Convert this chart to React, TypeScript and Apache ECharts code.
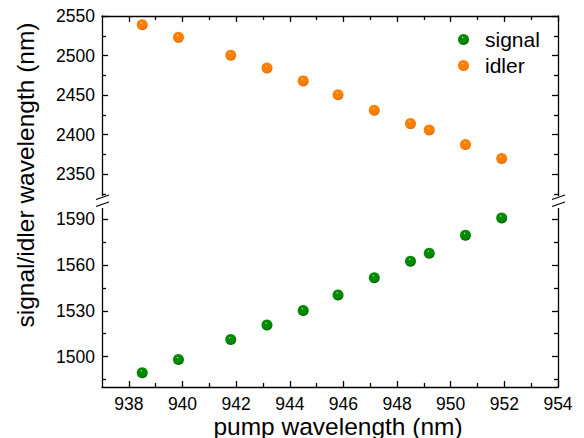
import React, { useEffect, useRef } from "react";
import * as echarts from "echarts";

const pumpWavelength = [938.5, 939.85, 941.8, 943.15, 944.5, 945.8, 947.15, 948.5, 949.2, 950.55, 951.9];
const signalWavelength = [1489.3, 1498.0, 1511.1, 1520.6, 1530.1, 1540.4, 1551.7, 1562.5, 1567.7, 1579.5, 1590.8];
const idlerWavelength = [2539, 2523, 2500.4, 2484.3, 2468, 2450.6, 2431, 2414, 2406, 2387.5, 2370];

const xMajorTicks = [938, 940, 942, 944, 946, 948, 950, 952, 954];
const xMinorTicks = [939, 941, 943, 945, 947, 949, 951, 953];
const idlerMajorTicks = [2350, 2400, 2450, 2500, 2550];
const idlerMinorTicks = [2325, 2375, 2425, 2475, 2525];
const signalMajorTicks = [1500, 1530, 1560, 1590];
const signalMinorTicks = [1485, 1515, 1545, 1575];

const FONT = "'Liberation Sans', Arial, Helvetica, sans-serif";
const AX = { color: "#000", width: 1.3 };
const plain = (v: number) => String(v);

function xAxisDef(gridIndex: number, position: string, ticks: number[], len: number, labels: boolean, line: boolean) {
  return {
    type: "value",
    gridIndex,
    position,
    min: 937,
    max: 954,
    axisLine: { show: line, lineStyle: AX },
    axisTick: { show: true, inside: true, length: len, customValues: ticks, lineStyle: AX },
    axisLabel: labels
      ? { show: true, customValues: xMajorTicks, formatter: plain, color: "#000", fontSize: 17.5, fontFamily: FONT, margin: 8 }
      : { show: false },
    splitLine: { show: false },
  };
}

function yAxisDef(gridIndex: number, position: string, min: number, max: number, ticks: number[], len: number, labels: number[] | null, line: boolean) {
  return {
    type: "value",
    gridIndex,
    position,
    min,
    max,
    axisLine: { show: line, lineStyle: AX },
    axisTick: { show: true, inside: true, length: len, customValues: ticks, lineStyle: AX },
    axisLabel: labels
      ? { show: true, customValues: labels, formatter: plain, color: "#000", fontSize: 17.5, fontFamily: FONT, margin: 7 }
      : { show: false },
    splitLine: { show: false },
  };
}

function ball(light: string, mid: string, dark: string) {
  return {
    type: "radial",
    x: 0.42,
    y: 0.32,
    r: 0.72,
    colorStops: [
      { offset: 0, color: light },
      { offset: 0.14, color: mid },
      { offset: 0.7, color: mid },
      { offset: 1, color: dark },
    ],
  };
}

export default function App() {
  const ref = useRef<HTMLDivElement>(null);
  useEffect(() => {
    if (!ref.current) return;
    const chart = echarts.init(ref.current, null, { renderer: "svg" });
    const breakLines = (x: number) => [
      { type: "rect", z: 100, shape: { x: x - 3, y: 196, width: 6, height: 12 }, style: { fill: "#fff" } },
      { type: "line", z: 101, shape: { x1: x - 6, y1: 199.5, x2: x + 7, y2: 195 }, style: { stroke: "#000", lineWidth: 1.2 } },
      { type: "line", z: 101, shape: { x1: x - 6, y1: 206.5, x2: x + 7, y2: 202 }, style: { stroke: "#000", lineWidth: 1.2 } },
    ];
    chart.setOption({
      animation: false,
      backgroundColor: "#fff",
      grid: [
        { left: 102, right: 26, top: 16, height: 182 },
        { left: 102, right: 26, top: 204, height: 183 },
      ],
      xAxis: [
        xAxisDef(0, "top", xMajorTicks, 6, false, true),
        xAxisDef(0, "top", xMinorTicks, 4, false, false),
        xAxisDef(1, "bottom", xMajorTicks, 6, true, true),
        xAxisDef(1, "bottom", xMinorTicks, 4, false, false),
      ],
      yAxis: [
        yAxisDef(0, "left", 2320, 2550, idlerMajorTicks, 6, idlerMajorTicks, true),
        yAxisDef(0, "left", 2320, 2550, idlerMinorTicks, 4, null, false),
        yAxisDef(0, "right", 2320, 2550, idlerMajorTicks, 6, null, true),
        yAxisDef(0, "right", 2320, 2550, idlerMinorTicks, 4, null, false),
        yAxisDef(1, "left", 1480, 1600, signalMajorTicks, 6, signalMajorTicks, true),
        yAxisDef(1, "left", 1480, 1600, signalMinorTicks, 4, null, false),
        yAxisDef(1, "right", 1480, 1600, signalMajorTicks, 6, null, true),
        yAxisDef(1, "right", 1480, 1600, signalMinorTicks, 4, null, false),
      ],
      legend: {
        orient: "vertical",
        left: 458,
        top: 29,
        padding: 0,
        itemWidth: 11,
        itemHeight: 11,
        itemGap: 5,
        icon: "circle",
        textStyle: { fontSize: 21, fontFamily: FONT, color: "#000", padding: [0, 0, 0, 11] },
        data: ["signal", "idler"],
      },
      series: [
        {
          name: "signal",
          type: "scatter",
          xAxisIndex: 2,
          yAxisIndex: 4,
          symbol: "circle",
          symbolSize: 11,
          itemStyle: { opacity: 1, color: ball("#d8f5d8", "#008a00", "#005000") },
          data: pumpWavelength.map((x, i) => [x, signalWavelength[i]]),
        },
        {
          name: "idler",
          type: "scatter",
          xAxisIndex: 0,
          yAxisIndex: 0,
          symbol: "circle",
          symbolSize: 11,
          itemStyle: { opacity: 1, color: ball("#fff0dc", "#ff7f00", "#d86000") },
          data: pumpWavelength.map((x, i) => [x, idlerWavelength[i]]),
        },
      ],
      graphic: [
        ...breakLines(102),
        ...breakLines(558),
        {
          type: "text",
          z: 100,
          x: 338,
          y: 426,
          style: { text: "pump wavelength (nm)", fontSize: 24.5, fontFamily: FONT, fill: "#000", align: "center", verticalAlign: "middle" },
        },
        {
          type: "text",
          z: 100,
          x: 25,
          y: 175,
          rotation: Math.PI / 2,
          style: { text: "signal/idler wavelength (nm)", fontSize: 24.5, fontFamily: FONT, fill: "#000", align: "center", verticalAlign: "middle" },
        },
      ],
    });
    return () => chart.dispose();
  }, []);
  return <div ref={ref} style={{ position: "fixed", left: 0, top: 0, width: 584, height: 438 }} />;
}
